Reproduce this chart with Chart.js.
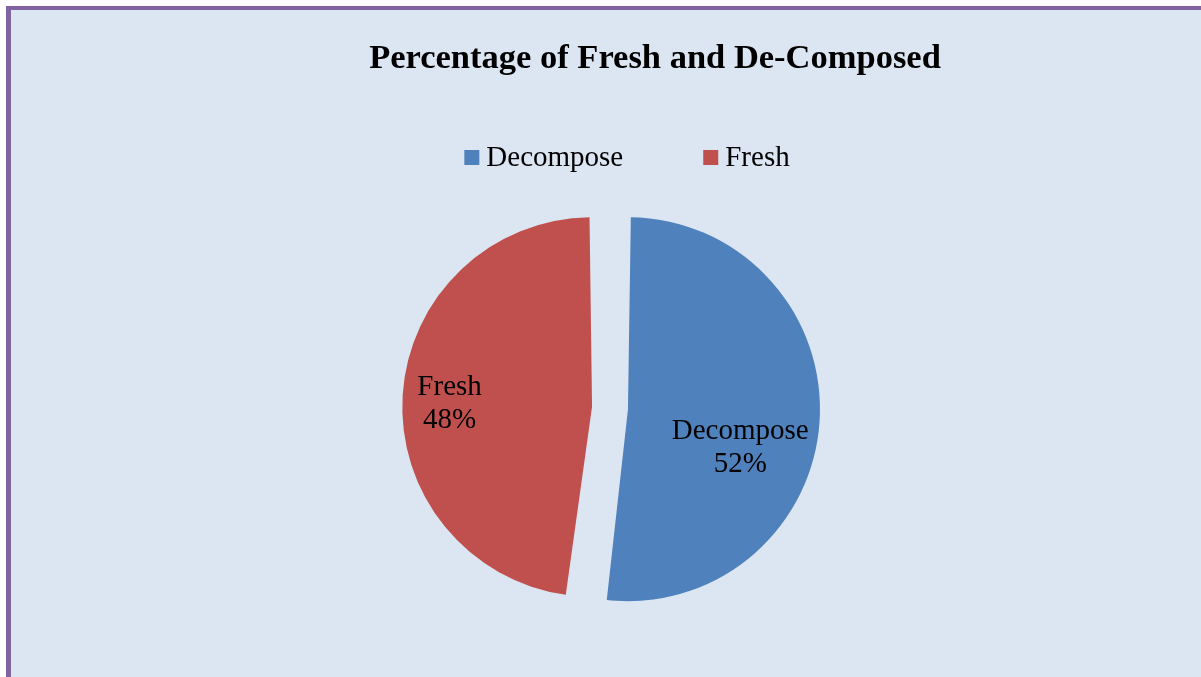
<!DOCTYPE html>
<html>
<head>
<meta charset="utf-8">
<title>Percentage of Fresh and De-Composed</title>
<script src="https://cdn.jsdelivr.net/npm/chart.js@4.4.0/dist/chart.umd.min.js"></script>
<style>
  html, body { margin: 0; padding: 0; background: #ffffff; overflow: hidden; }
  .frame {
    position: absolute; left: 6px; top: 6px; width: 1195px; height: 671px;
    background: #dce6f2;
    border-left: 5px solid #8064a2;
    border-top: 4px solid #8064a2;
  }
  #pie { display: block; }
</style>
</head>
<body>
<div class="frame">
  <canvas id="pie" width="1190" height="667"></canvas>
</div>
<script>
const categories = ["Decompose", "Fresh"];
const percentages = [52, 48];
const sliceColors = ["#4f81bd", "#c0504d"];
const chartTitle = "Percentage of Fresh and De-Composed";

const serif = "'Liberation Serif', 'Times New Roman', serif";

// title + legend row drawn by hand so they can sit off the pie's centre line
const headerText = {
    id: "headerText",
    afterDraw: function (chart, args, opts) {
        var ctx = chart.ctx;
        ctx.save();
        ctx.fillStyle = "#000";
        ctx.textBaseline = "alphabetic";

        ctx.font = "bold 34.5px " + serif;
        ctx.textAlign = "center";
        ctx.fillText(chartTitle, opts.titleX, opts.titleY);

        // legend
        ctx.font = "29px " + serif;
        ctx.textAlign = "left";
        var box = 15, gap = 7, spacing = 80;
        var widths = categories.map(function (c) {
            return box + gap + ctx.measureText(c).width;
        });
        var total = widths.reduce(function (a, b) { return a + b; }, 0) + spacing * (categories.length - 1);
        var x = opts.legendX - total / 2;
        categories.forEach(function (c, i) {
            ctx.fillStyle = sliceColors[i];
            ctx.fillRect(x, opts.legendY - 16, box, box);
            ctx.fillStyle = "#000";
            ctx.fillText(c, x + box + gap, opts.legendY);
            x += widths[i] + spacing;
        });
        ctx.restore();
    }
};

// "name / value%" inside each slice
const sliceLabels = {
    id: "sliceLabels",
    afterDatasetsDraw: function (chart, args, opts) {
        var ctx = chart.ctx;
        var meta = chart.getDatasetMeta(0);
        ctx.save();
        ctx.font = "29px " + serif;
        ctx.fillStyle = "#000";
        ctx.textAlign = "center";
        ctx.textBaseline = "middle";
        meta.data.forEach(function (arc, i) {
            var p = arc.getProps(["x", "y", "startAngle", "endAngle", "outerRadius"], true);
            var place = opts.placement[i];
            var mid = (p.startAngle + p.endAngle) / 2 + place.turn * Math.PI / 180;
            var r = p.outerRadius * place.dist;
            var cx = p.x + Math.cos(mid) * r;
            var cy = p.y + Math.sin(mid) * r + 3.5;
            var value = chart.data.datasets[0].data[i];
            ctx.fillText(chart.data.labels[i], cx, cy - 16.5);
            ctx.fillText(value + "%", cx, cy + 16.5);
        });
        ctx.restore();
    }
};

const ctx = document.getElementById("pie").getContext("2d");
const pieChart = new Chart(ctx, {
    type: "pie",
    data: {
        labels: categories,
        datasets: [
            {
                data: percentages,
                backgroundColor: sliceColors,
                borderWidth: 0,
                // arc offset is drawn at a quarter of this value
                offset: 72,
                hoverOffset: 0,
            },
        ],
    },
    options: {
        responsive: false,
        animation: false,
        // exploded slices grow by the shift, so the base radius is smaller
        radius: 174,
        layout: {
            padding: { left: 8, right: 0, top: 159, bottom: 30 },
        },
        plugins: {
            legend: { display: false },
            title: { display: false },
            tooltip: { enabled: false },
            headerText: { titleX: 644, titleY: 58, legendX: 616, legendY: 156 },
            sliceLabels: {
                placement: [
                    { dist: 0.777, turn: 12 },
                    { dist: 0.923, turn: -1 },
                ],
            },
        },
    },
    plugins: [headerText, sliceLabels],
});
</script>
</body>
</html>
